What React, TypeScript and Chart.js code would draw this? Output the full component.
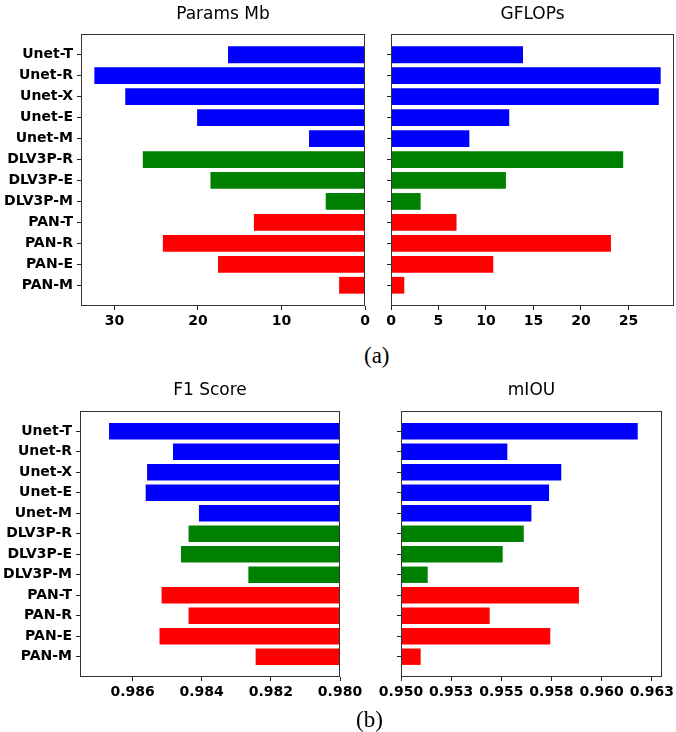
import React, { useEffect, useRef } from "react";
import { Chart, registerables } from "chart.js";

Chart.register(...registerables);

const categories = ["Unet-T", "Unet-R", "Unet-X", "Unet-E", "Unet-M", "DLV3P-R", "DLV3P-E", "DLV3P-M", "PAN-T", "PAN-R", "PAN-E", "PAN-M"];
const barColors = ["#0000ff", "#0000ff", "#0000ff", "#0000ff", "#0000ff", "#008000", "#008000", "#008000", "#ff0000", "#ff0000", "#ff0000", "#ff0000"];

const paramsMb = [16.4, 32.4, 28.7, 20.1, 6.7, 26.6, 18.5, 4.7, 13.3, 24.2, 17.6, 3.1];
const gflops = [13.9, 28.4, 28.2, 12.45, 8.25, 24.45, 12.1, 3.12, 6.9, 23.16, 10.77, 1.4];
const f1Score = [0.98668, 0.98483, 0.98558, 0.98562, 0.98408, 0.98438, 0.9846, 0.98265, 0.98516, 0.98438, 0.98522, 0.98244];
const mIou = [0.9618, 0.9553, 0.95799, 0.95738, 0.9565, 0.95612, 0.95507, 0.95133, 0.95887, 0.95442, 0.95744, 0.95098];

const paramsTicks = [0, 10, 20, 30];
const paramsTickLabels = ["0", "10", "20", "30"];
const gflopsTicks = [0, 5, 10, 15, 20, 25];
const gflopsTickLabels = ["0", "5", "10", "15", "20", "25"];
const f1Ticks = [0.986, 0.984, 0.982, 0.98];
const f1TickLabels = ["0.986", "0.984", "0.982", "0.980"];
const mIouTicks = [0.95, 0.9525, 0.955, 0.9575, 0.96, 0.9625];
const mIouTickLabels = ["0.950", "0.953", "0.955", "0.958", "0.960", "0.963"];

const FONT = "'DejaVu Sans', sans-serif";

const framePlugin = {
  id: "frame",
  afterDraw(chart: any) {
    const { ctx, chartArea } = chart;
    const l = Math.round(chartArea.left) + 0.5;
    const t = Math.round(chartArea.top) + 0.5;
    const r = Math.round(chartArea.right) - 0.5;
    const b = Math.round(chartArea.bottom) - 0.5;
    ctx.save();
    ctx.strokeStyle = "#333";
    ctx.lineWidth = 1;
    ctx.strokeRect(l, t, r - l, b - t);
    ctx.restore();
  },
};

type PanelProps = {
  left: number;
  top: number;
  width: number;
  height: number;
  title: string;
  values: number[];
  ticks: number[];
  tickLabels: string[];
  xMin: number;
  xMax: number;
  reverse: boolean;
  base: number;
  showYLabels: boolean;
  yWidth: number;
  padRight: number;
  titlePad: { top: number; bottom: number };
  padBottom: number;
};

function Panel(p: PanelProps) {
  const ref = useRef<HTMLCanvasElement | null>(null);
  useEffect(() => {
    if (!ref.current) return;
    const chart = new Chart(ref.current, {
      type: "bar",
      data: {
        datasets: [
          {
            data: p.values.map((v, i) => ({ x: v, y: i })),
            backgroundColor: barColors,
            borderWidth: 0,
            base: p.base,
            categoryPercentage: 1,
            barPercentage: 0.8,
          } as any,
        ],
      },
      options: {
        indexAxis: "y",
        animation: false,
        responsive: false,
        maintainAspectRatio: false,
        layout: { padding: { left: 0, right: p.padRight, top: 0, bottom: p.padBottom } },
        plugins: {
          legend: { display: false },
          tooltip: { enabled: false },
          title: {
            display: true,
            text: p.title,
            fullSize: false,
            color: "#000",
            font: { family: FONT, size: 17, weight: "normal" },
            padding: p.titlePad,
          },
        },
        scales: {
          x: {
            type: "linear",
            min: p.xMin,
            max: p.xMax,
            reverse: p.reverse,
            offset: false,
            afterBuildTicks: (s: any) => {
              s.ticks = p.ticks.map((v) => ({ value: v }));
            },
            afterFit: (s: any) => {
              s.height = 30;
              s.paddingLeft = 0;
              s.paddingRight = 0;
            },
            ticks: {
              autoSkip: false,
              maxRotation: 0,
              padding: 3,
              color: "#000",
              font: { family: FONT, size: 14, weight: "bold" },
              callback: (_v: any, i: number) => p.tickLabels[i],
            },
            grid: { display: true, offset: false, drawOnChartArea: false, drawTicks: true, tickLength: 4, color: "#222" },
            border: { display: false },
          },
          y: {
            type: "linear",
            min: -0.99,
            max: 11.99,
            reverse: true,
            offset: false,
            afterBuildTicks: (s: any) => {
              s.ticks = categories.map((_, i) => ({ value: i }));
            },
            afterFit: (s: any) => {
              s.width = p.yWidth;
              s.paddingTop = 0;
              s.paddingBottom = 0;
            },
            ticks: {
              autoSkip: false,
              padding: 4,
              color: "#000",
              font: { family: FONT, size: 14, weight: "bold" },
              callback: (_v: any, i: number) => (p.showYLabels ? categories[i] : ""),
            },
            grid: { display: true, offset: false, drawOnChartArea: false, drawTicks: true, tickLength: 4, color: "#222" },
            border: { display: false },
          },
        },
      } as any,
      plugins: [framePlugin],
    });
    return () => chart.destroy();
  }, []);
  return (
    <canvas
      ref={ref}
      width={p.width}
      height={p.height}
      style={{ position: "absolute", left: p.left, top: p.top, width: p.width, height: p.height }}
    />
  );
}

export default function App() {
  const captionStyle: React.CSSProperties = {
    position: "absolute",
    fontFamily: "'Liberation Serif', 'Times New Roman', serif",
    fontSize: 23,
    lineHeight: "23px",
    color: "#000",
  };
  return (
    <div style={{ position: "absolute", left: 0, top: 0, width: 676, height: 732, background: "#fff", overflow: "hidden" }}>
      <Panel left={0} top={0} width={375} height={340} title="Params Mb" values={paramsMb} ticks={paramsTicks} tickLabels={paramsTickLabels}
        xMin={0} xMax={34.0} reverse={true} base={0} showYLabels={true} yWidth={81} padRight={10} titlePad={{ top: 4, bottom: 9.6 }} padBottom={4} />
      <Panel left={375} top={0} width={301} height={340} title="GFLOPs" values={gflops} ticks={gflopsTicks} tickLabels={gflopsTickLabels}
        xMin={0} xMax={29.8} reverse={false} base={0} showYLabels={false} yWidth={16} padRight={2} titlePad={{ top: 4, bottom: 9.6 }} padBottom={4} />
      <Panel left={0} top={370} width={375} height={362} title="F1 Score" values={f1Score} ticks={f1Ticks} tickLabels={f1TickLabels}
        xMin={0.98} xMax={0.98752} reverse={true} base={0.98} showYLabels={true} yWidth={80} padRight={35} titlePad={{ top: 10.5, bottom: 10.1 }} padBottom={25} />
      <Panel left={375} top={370} width={301} height={362} title="mIOU" values={mIou} ticks={mIouTicks} tickLabels={mIouTickLabels}
        xMin={0.95} xMax={0.96301} reverse={false} base={0.95} showYLabels={false} yWidth={26} padRight={14} titlePad={{ top: 10.5, bottom: 10.1 }} padBottom={25} />
      <div style={{ ...captionStyle, left: 364, top: 344 }}>(a)</div>
      <div style={{ ...captionStyle, left: 356, top: 708 }}>(b)</div>
    </div>
  );
}
